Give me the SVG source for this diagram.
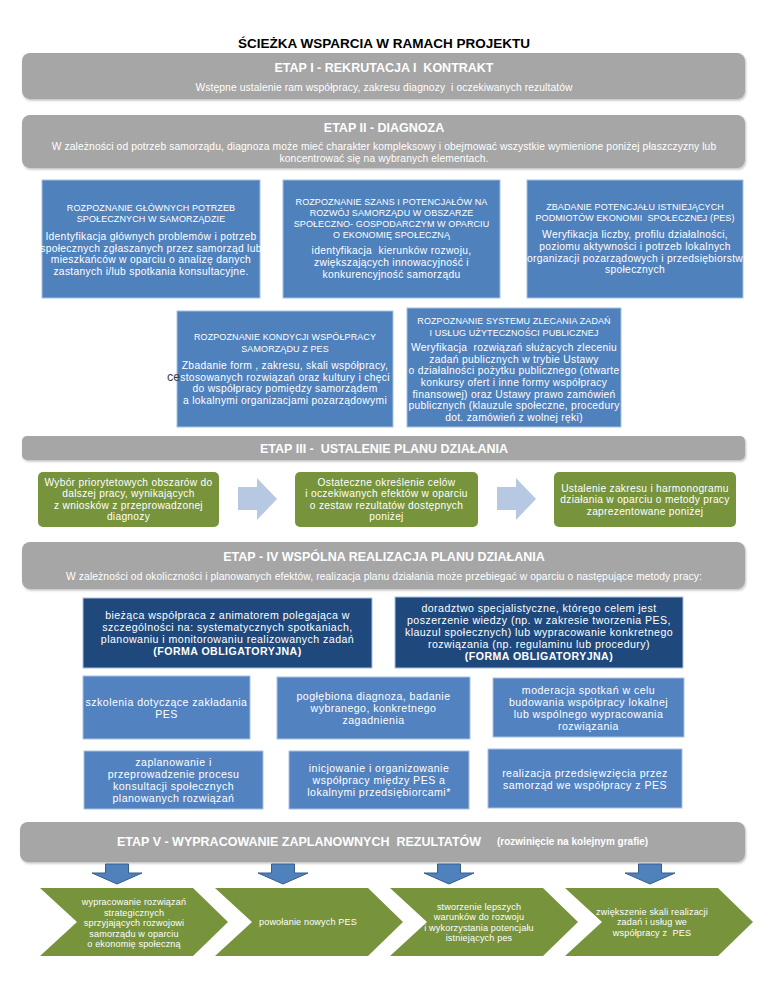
<svg xmlns="http://www.w3.org/2000/svg" width="768" height="994" viewBox="0 0 768 994">
<defs>
<filter id="sh" x="-5%" y="-20%" width="110%" height="150%">
<feDropShadow dx="1" dy="1.5" stdDeviation="1" flood-color="#000" flood-opacity="0.25"/>
</filter>
</defs>
<style>
text{font-family:"Liberation Sans",Arial,sans-serif;fill:#fff;text-anchor:middle}
.bar{fill:#a6a6a6;filter:url(#sh)}
.bt{font-size:12.5px;font-weight:bold}
.bs{font-size:10.3px;letter-spacing:0.1px}
.blue{fill:#4f81bd;stroke:#a9c0e0;stroke-width:1}
.dark{fill:#1f497d;stroke:#a9c0e0;stroke-width:1}
.meth{fill:#5283c0;stroke:#a9c0e0;stroke-width:1}
.green{fill:#77933c}
.h{font-size:9px;letter-spacing:0.1px}
.b{font-size:10.3px;letter-spacing:0.3px}
.g{font-size:10.2px;letter-spacing:0.3px}
.m{font-size:10.6px;letter-spacing:0.45px}
.mb{font-size:10.6px;font-weight:bold;letter-spacing:0.45px}
.c{font-size:9.1px;letter-spacing:0.15px}
.rarrow{fill:#b7c9e2}
.darrow{fill:#4f81bd;stroke:#385d8a;stroke-width:1}
</style>
<rect width="768" height="994" fill="#fff"/>
<text x="384" y="48" style="font-size:13.5px;font-weight:bold;fill:#000">ŚCIEŻKA WSPARCIA W RAMACH PROJEKTU</text>

<g id="etap1">
<rect class="bar" x="22" y="53" width="723" height="46" rx="8"/>
<text class="bt" x="384" y="71.5" xml:space="preserve">ETAP I - REKRUTACJA I  KONTRAKT</text>
<text class="bs" x="384" y="90.7" xml:space="preserve">Wstępne ustalenie ram współpracy, zakresu diagnozy  i oczekiwanych rezultatów</text>
</g>

<g id="etap2">
<rect class="bar" x="22" y="115" width="723" height="53" rx="8"/>
<text class="bt" x="384" y="131.5">ETAP II - DIAGNOZA</text>
<text class="bs" x="384" y="150.2">W zależności od potrzeb samorządu, diagnoza może mieć charakter kompleksowy i obejmować wszystkie wymienione poniżej płaszczyzny lub</text>
<text class="bs" x="384" y="162">koncentrować się na wybranych elementach.</text>
</g>

<g id="diag1">
<rect class="blue" x="42" y="180" width="218" height="118"/>
<text class="h" x="151" y="211.2">ROZPOZNANIE GŁÓWNYCH POTRZEB</text>
<text class="h" x="151" y="221.7">SPOŁECZNYCH W SAMORZĄDZIE</text>
<text class="b" x="151" y="239.8">Identyfikacja głównych problemów i potrzeb</text>
<text class="b" x="151" y="251.5">społecznych zgłaszanych przez samorząd lub</text>
<text class="b" x="151" y="263.2">mieszkańców w oparciu o analizę danych</text>
<text class="b" x="151" y="274.9">zastanych i/lub spotkania konsultacyjne.</text>
</g>

<g id="diag2">
<rect class="blue" x="283" y="180" width="217" height="118"/>
<text class="h" x="391.5" y="204.7">ROZPOZNANIE SZANS I POTENCJAŁÓW NA</text>
<text class="h" x="391.5" y="215.7">ROZWÓJ SAMORZĄDU W OBSZARZE</text>
<text class="h" x="391.5" y="226.7">SPOŁECZNO- GOSPODARCZYM W OPARCIU</text>
<text class="h" x="391.5" y="237.7">O EKONOMIĘ SPOŁECZNĄ</text>
<text class="b" x="391.5" y="254.3" xml:space="preserve">identyfikacja  kierunków rozwoju,</text>
<text class="b" x="391.5" y="266">zwiększających innowacyjność i</text>
<text class="b" x="391.5" y="277.7">konkurencyjność samorządu</text>
</g>

<g id="diag3">
<rect class="blue" x="527" y="180" width="216" height="118"/>
<text class="h" x="635" y="210.2">ZBADANIE POTENCJAŁU ISTNIEJĄCYCH</text>
<text class="h" x="635" y="221.2" xml:space="preserve">PODMIOTÓW EKONOMII  SPOŁECZNEJ (PES)</text>
<text class="b" x="635" y="238.1">Weryfikacja liczby, profilu działalności,</text>
<text class="b" x="635" y="249.8">poziomu aktywności i potrzeb lokalnych</text>
<text class="b" x="635" y="261.5">organizacji pozarządowych i przedsiębiorstw</text>
<text class="b" x="635" y="273.2">społecznych</text>
</g>

<g id="diag4">
<rect class="blue" x="177" y="311" width="216" height="116"/>
<text class="h" x="285" y="340.2">ROZPOZNANIE KONDYCJI WSPÓŁPRACY</text>
<text class="h" x="285" y="352.2">SAMORZĄDU Z PES</text>
<text class="b" x="285" y="368.8">Zbadanie form , zakresu, skali współpracy,</text>
<text class="b" x="285" y="380.5">stosowanych rozwiązań oraz kultury i chęci</text>
<text class="b" x="285" y="392.2">do współpracy pomiędzy samorządem</text>
<text class="b" x="285" y="403.9">a lokalnymi organizacjami pozarządowymi</text>
</g>
<text x="167" y="380.5" style="font-size:12.5px;fill:#404040;text-anchor:start">ce</text>

<g id="diag5">
<rect class="blue" x="407" y="308" width="214" height="119"/>
<text class="h" x="514" y="324.2">ROZPOZNANIE SYSTEMU ZLECANIA ZADAŃ</text>
<text class="h" x="514" y="336.2">I USŁUG UŻYTECZNOŚCI PUBLICZNEJ</text>
<text class="b" x="514" y="350.8" xml:space="preserve">Weryfikacja  rozwiązań służących zleceniu</text>
<text class="b" x="514" y="362.5">zadań publicznych w trybie Ustawy</text>
<text class="b" x="514" y="374.2">o działalności pożytku publicznego (otwarte</text>
<text class="b" x="514" y="385.9">konkursy ofert i inne formy współpracy</text>
<text class="b" x="514" y="397.6">finansowej) oraz Ustawy prawo zamówień</text>
<text class="b" x="514" y="409.3">publicznych (klauzule społeczne, procedury</text>
<text class="b" x="514" y="421">dot. zamówień z wolnej ręki)</text>
</g>

<g id="etap3">
<rect class="bar" x="22" y="436" width="723" height="24" rx="5"/>
<text class="bt" x="384" y="452.5" xml:space="preserve">ETAP III -  USTALENIE PLANU DZIAŁANIA</text>
</g>

<g id="plan1">
<rect class="green" x="38" y="472" width="181" height="55" rx="5"/>
<text class="g" x="128.5" y="485.8">Wybór priorytetowych obszarów do</text>
<text class="g" x="128.5" y="497.3">dalszej pracy, wynikających</text>
<text class="g" x="128.5" y="508.8">z wniosków z przeprowadzonej</text>
<text class="g" x="128.5" y="520.3">diagnozy</text>
</g>
<g id="plan2">
<rect class="green" x="295" y="472" width="183" height="55" rx="5"/>
<text class="g" x="386.5" y="485.8">Ostateczne określenie celów</text>
<text class="g" x="386.5" y="497.3">i oczekiwanych efektów w oparciu</text>
<text class="g" x="386.5" y="508.8">o zestaw rezultatów dostępnych</text>
<text class="g" x="386.5" y="520.3">poniżej</text>
</g>
<g id="plan3">
<rect class="green" x="554" y="472" width="182" height="55" rx="5"/>
<text class="g" x="645" y="491.8">Ustalenie zakresu i harmonogramu</text>
<text class="g" x="645" y="503.3">działania w oparciu o metody pracy</text>
<text class="g" x="645" y="514.8">zaprezentowane poniżej</text>
</g>

<g id="etap4">
<rect class="bar" x="22" y="542" width="723" height="47" rx="8"/>
<text class="bt" x="384" y="560.5">ETAP - IV WSPÓLNA REALIZACJA PLANU DZIAŁANIA</text>
<text class="bs" x="384" y="579.7">W zależności od okoliczności i planowanych efektów, realizacja planu działania może przebiegać w oparciu o następujące metody pracy:</text>
</g>

<g id="metoda1">
<rect class="dark" x="83" y="598" width="289" height="70"/>
<text class="m" x="227.5" y="619">bieżąca współpraca z animatorem polegająca w</text>
<text class="m" x="227.5" y="631">szczególności na: systematycznych spotkaniach,</text>
<text class="m" x="227.5" y="643">planowaniu i monitorowaniu realizowanych zadań</text>
<text class="mb" x="227.5" y="655">(FORMA OBLIGATORYJNA)</text>
</g>
<g id="metoda2">
<rect class="dark" x="395" y="597" width="288" height="71"/>
<text class="m" x="539" y="612">doradztwo specjalistyczne, którego celem jest</text>
<text class="m" x="539" y="624">poszerzenie wiedzy (np. w zakresie tworzenia PES,</text>
<text class="m" x="539" y="636">klauzul społecznych) lub wypracowanie konkretnego</text>
<text class="m" x="539" y="648">rozwiązania (np. regulaminu lub procedury)</text>
<text class="mb" x="539" y="660">(FORMA OBLIGATORYJNA)</text>
</g>
<g id="metoda3">
<rect class="meth" x="83" y="676" width="167" height="63"/>
<text class="m" x="166.5" y="705.5">szkolenia dotyczące zakładania</text>
<text class="m" x="166.5" y="717.5">PES</text>
</g>
<g id="metoda4">
<rect class="meth" x="277" y="677" width="193" height="62"/>
<text class="m" x="373.5" y="700">pogłębiona diagnoza, badanie</text>
<text class="m" x="373.5" y="712">wybranego, konkretnego</text>
<text class="m" x="373.5" y="724">zagadnienia</text>
</g>
<g id="metoda5">
<rect class="meth" x="493" y="678" width="191" height="59"/>
<text class="m" x="588.5" y="694">moderacja spotkań w celu</text>
<text class="m" x="588.5" y="706">budowania współpracy lokalnej</text>
<text class="m" x="588.5" y="718">lub wspólnego wypracowania</text>
<text class="m" x="588.5" y="730">rozwiązania</text>
</g>
<g id="metoda6">
<rect class="meth" x="84" y="751" width="179" height="58"/>
<text class="m" x="173.5" y="766">zaplanowanie i</text>
<text class="m" x="173.5" y="778">przeprowadzenie procesu</text>
<text class="m" x="173.5" y="790">konsultacji społecznych</text>
<text class="m" x="173.5" y="802">planowanych rozwiązań</text>
</g>
<g id="metoda7">
<rect class="meth" x="289" y="751" width="180" height="58"/>
<text class="m" x="379" y="772">inicjowanie i organizowanie</text>
<text class="m" x="379" y="784">współpracy między PES a</text>
<text class="m" x="379" y="796">lokalnymi przedsiębiorcami*</text>
</g>
<g id="metoda8">
<rect class="meth" x="488" y="749" width="194" height="59"/>
<text class="m" x="585" y="777">realizacja przedsięwzięcia przez</text>
<text class="m" x="585" y="789">samorząd we współpracy z PES</text>
</g>

<g id="etap5">
<rect class="bar" x="20" y="822" width="725" height="40" rx="8"/>
<text class="bt" x="117" y="845.5" style="text-anchor:start" xml:space="preserve">ETAP V - WYPRACOWANIE ZAPLANOWNYCH  REZULTATÓW</text>
<text x="497" y="844.5" style="text-anchor:start;font-size:10px;font-weight:bold">(rozwinięcie na kolejnym grafie)</text>
</g>

<g id="rezultat1">
<path class="green" d="M40 888 H193 L228 922 L193 956 H40 L77 922 Z"/>
<text class="c" x="134" y="905.3">wypracowanie rozwiązań</text>
<text class="c" x="134" y="915.8">strategicznych</text>
<text class="c" x="134" y="926.3">sprzyjających rozwojowi</text>
<text class="c" x="134" y="936.8">samorządu w oparciu</text>
<text class="c" x="134" y="947.3">o ekonomię społeczną</text>
</g>
<g id="rezultat2">
<path class="green" d="M215 888 H368 L403 922 L368 956 H215 L252 922 Z"/>
<text class="c" x="308" y="925.3">powołanie nowych PES</text>
</g>
<g id="rezultat3">
<path class="green" d="M390 888 H543 L578 922 L543 956 H390 L427 922 Z"/>
<text class="c" x="479" y="909.8">stworzenie lepszych</text>
<text class="c" x="479" y="920.3">warunków do rozwoju</text>
<text class="c" x="479" y="930.8">i wykorzystania potencjału</text>
<text class="c" x="479" y="941.3">istniejących pes</text>
</g>
<g id="rezultat4">
<path class="green" d="M565 888 H718 L753 922 L718 956 H565 L602 922 Z"/>
<text class="c" x="652" y="914.8">zwiększenie skali realizacji</text>
<text class="c" x="652" y="925.3">zadań i usług we</text>
<text class="c" x="652" y="935.8" xml:space="preserve">współpracy z  PES</text>
</g>

<g id="connectors">
<path class="rarrow" d="M238 487 H257 V478 L277 499 L257 520 V510 H238 Z"/>
<path class="rarrow" d="M497 487 H516 V478 L536 499 L516 520 V510 H497 Z"/>
<path class="darrow" d="M105.5 864 H128.5 V873 H142 L117 884 L92 873 H105.5 Z"/>
<path class="darrow" d="M271.5 864 H294.5 V873 H308 L283 884 L258 873 H271.5 Z"/>
<path class="darrow" d="M437.5 864 H460.5 V873 H474 L449 884 L424 873 H437.5 Z"/>
<path class="darrow" d="M638.5 864 H661.5 V873 H675 L650 884 L625 873 H638.5 Z"/>
</g>
</svg>
